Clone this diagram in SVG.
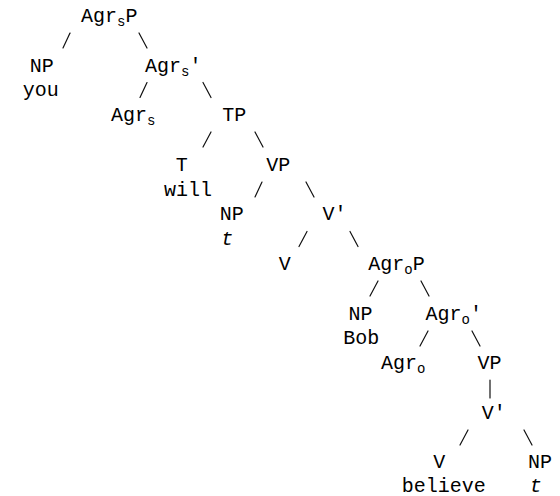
<svg xmlns="http://www.w3.org/2000/svg" width="560" height="496" viewBox="0 0 560 496">
<style>
text{font-family:"Liberation Mono","Courier New",monospace;font-size:20px;fill:#000}
.m{text-anchor:middle}
.i{font-style:italic}
.sub{font-size:14px}
#connectors line{stroke:#111;stroke-width:1.2;stroke-linecap:round}
</style>
<rect width="560" height="496" fill="#fff"/>
<g id="connectors">
<line x1="63" y1="48" x2="70" y2="33"/>
<line x1="139" y1="33" x2="147" y2="48"/>
<line x1="140" y1="97.5" x2="147" y2="82.5"/>
<line x1="203" y1="82.5" x2="211" y2="97.5"/>
<line x1="203" y1="147" x2="211" y2="132"/>
<line x1="255" y1="132" x2="263" y2="147"/>
<line x1="255" y1="197" x2="262" y2="182"/>
<line x1="306" y1="182" x2="314" y2="197"/>
<line x1="299" y1="246.5" x2="307" y2="231.5"/>
<line x1="350" y1="231.5" x2="358" y2="246.5"/>
<line x1="370" y1="296" x2="378" y2="281"/>
<line x1="421" y1="281" x2="429" y2="296"/>
<line x1="420" y1="346" x2="428" y2="331"/>
<line x1="472" y1="331" x2="480" y2="346"/>
<line x1="490" y1="380" x2="490" y2="398"/>
<line x1="460" y1="445" x2="468" y2="430"/>
<line x1="524" y1="430" x2="532" y2="445"/>
</g>
<g id="n-agrsp"><text x="81" y="22">Agr<tspan class="sub" dy="4">s</tspan><tspan dy="-4">P</tspan></text></g>
<g id="n-np-you"><text class="m" x="41.7" y="71.6">NP</text><text class="m" x="40.8" y="96.4">you</text></g>
<g id="n-agrs-bar"><text x="145" y="71.6">Agr<tspan class="sub" dy="4">s</tspan><tspan dy="-4">'</tspan></text></g>
<g id="n-agrs"><text x="111" y="121.2">Agr<tspan class="sub" dy="4">s</tspan></text></g>
<g id="n-tp"><text class="m" x="234.2" y="121.2">TP</text></g>
<g id="n-t-will"><text class="m" x="181.7" y="170.8">T</text><text class="m" x="188" y="195.6">will</text></g>
<g id="n-vp1"><text class="m" x="278.3" y="170.8">VP</text></g>
<g id="n-np-t1"><text class="m" x="231.7" y="220.4">NP</text><text class="m i" x="227.2" y="245.2">t</text></g>
<g id="n-vbar1"><text x="322.5" y="220.4">V'</text></g>
<g id="n-v1"><text class="m" x="284.7" y="270">V</text></g>
<g id="n-agrop"><text x="368.3" y="270">Agr<tspan class="sub" dy="4">o</tspan><tspan dy="-4">P</tspan></text></g>
<g id="n-np-bob"><text class="m" x="360.5" y="319.6">NP</text><text class="m" x="361.3" y="344.4">Bob</text></g>
<g id="n-agro-bar"><text x="425.5" y="319.6">Agr<tspan class="sub" dy="4">o</tspan><tspan dy="-4">'</tspan></text></g>
<g id="n-agro"><text x="381" y="369.2">Agr<tspan class="sub" dy="4">o</tspan></text></g>
<g id="n-vp2"><text class="m" x="489.5" y="369.2">VP</text></g>
<g id="n-vbar2"><text x="481.7" y="418.8">V'</text></g>
<g id="n-v-believe"><text class="m" x="439.2" y="468.4">V</text><text class="m" x="443.8" y="491.5">believe</text></g>
<g id="n-np-t2"><text class="m" x="540" y="468.4">NP</text><text class="m i" x="535.8" y="491.5">t</text></g>
</svg>
